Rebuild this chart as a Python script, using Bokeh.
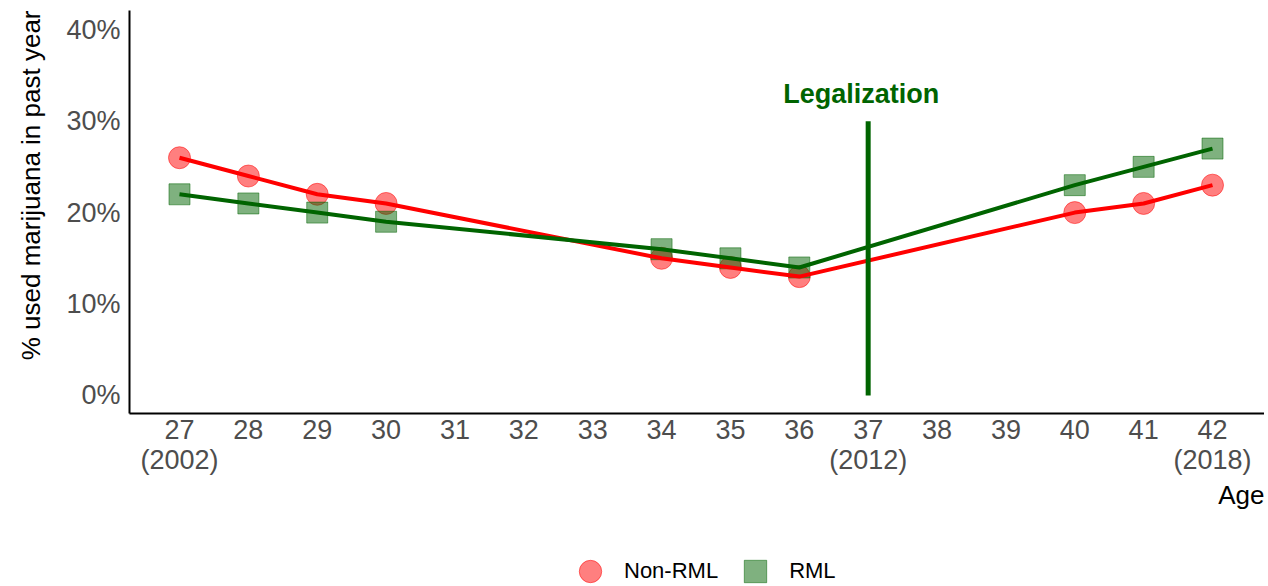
from bokeh.plotting import figure
from bokeh.layouts import column
from bokeh.models import Range1d, FixedTicker, Legend, LegendItem, Title, PrintfTickFormatter
from bokeh.core.properties import value
from bokeh.embed import file_html
from bokeh.resources import INLINE

ages = [27, 28, 29, 30, 34, 35, 36, 40, 41, 42]
non_rml = [26, 24, 22, 21, 15, 14, 13, 20, 21, 23]
rml = [22, 21, 20, 19, 16, 15, 14, 23, 25, 27]
x_ticks = list(range(27, 43))
x_tick_labels = {27: "27\n(2002)", 37: "37\n(2012)", 42: "42\n(2018)"}
y_ticks = [0, 10, 20, 30, 40]
legal_age = [37]
legal_low = [0]
legal_high = [30]
legal_text = ["Legalization"]
legal_text_y = [33]
series_names = ["Non-RML", "RML"]
y_title = "% used marijuana in past year"

RED = "#FF0000"
GREEN = "#006400"
FONT = "Liberation Sans"

p = figure(width=1264, height=540, x_range=Range1d(26.274, 42.755), y_range=Range1d(-1.97, 42.1),
           output_backend="svg", toolbar_location=None,
           min_border_left=129, min_border_right=0, min_border_top=10, min_border_bottom=127)
p.outline_line_color = None
p.xgrid.visible = False
p.ygrid.visible = False

# points
r_non = p.scatter(ages, non_rml, marker="circle", size=22, fill_color=RED, fill_alpha=0.5,
                  line_color=RED, line_alpha=0.5)
r_rml = p.scatter(ages, rml, marker="square", size=21, fill_color=GREEN, fill_alpha=0.5,
                  line_color=GREEN, line_alpha=0.5)
# lines
p.line(ages, non_rml, line_color=RED, line_width=4)
p.line(ages, rml, line_color=GREEN, line_width=4)

# legalization
p.segment(x0=legal_age, y0=legal_low, x1=legal_age, y1=legal_high, line_color=GREEN, line_width=5)
p.text(x=legal_age, y=legal_text_y, text=legal_text, text_color=GREEN, text_font=value(FONT),
       text_font_style="bold", text_font_size="27px", text_align="center", text_baseline="middle", x_offset=-7)

# axes
for ax in (p.xaxis[0], p.yaxis[0]):
    ax.axis_line_color = "black"
    ax.axis_line_width = 2
    ax.major_tick_line_color = None
    ax.minor_tick_line_color = None
    ax.major_label_text_color = "#4D4D4D"
    ax.major_label_text_font = FONT
    ax.major_label_text_font_size = "27px"

p.xaxis.ticker = FixedTicker(ticks=x_ticks)
p.xaxis.major_label_overrides = x_tick_labels
p.xaxis.major_label_standoff = -5
p.xaxis.major_label_text_line_height = 1.0

p.yaxis.ticker = FixedTicker(ticks=y_ticks)
p.yaxis.formatter = PrintfTickFormatter(format="%d%%")
p.yaxis.major_label_standoff = 3

ytitle = Title(text=y_title, align="right", vertical_align="top", offset=0,
               standoff=31, text_font=FONT, text_font_size="26px", text_font_style="normal",
               text_color="black")
p.add_layout(ytitle, "left")

age_title = Title(text="Age", align="right", text_font=FONT, text_font_size="26px",
                  text_font_style="normal", text_color="black", standoff=0)
p.add_layout(age_title, "below")

# legend strip (its renderers draw the same series, outside the strip's visible range)
pl = figure(width=1264, height=46, x_range=Range1d(0, 1), y_range=Range1d(0, 1),
            output_backend="svg", toolbar_location=None, x_axis_type=None, y_axis_type=None,
            min_border_left=0, min_border_right=0, min_border_top=0, min_border_bottom=0)
pl.outline_line_color = None
pl.xgrid.visible = False
pl.ygrid.visible = False
l_non = pl.scatter(ages, non_rml, marker="circle", size=22, fill_color=RED, fill_alpha=0.5,
                   line_color=RED, line_alpha=0.5)
l_rml = pl.scatter(ages, rml, marker="square", size=21, fill_color=GREEN, fill_alpha=0.5,
                   line_color=GREEN, line_alpha=0.5)
legend = Legend(items=[LegendItem(label=series_names[0], renderers=[l_non]),
                       LegendItem(label=series_names[1], renderers=[l_rml])],
                orientation="horizontal", location=(433, -13), glyph_width=56, glyph_height=56,
                label_standoff=6, spacing=9, padding=0, margin=0,
                label_text_font=FONT, label_text_font_size="22px", label_text_color="black",
                border_line_color=None, background_fill_alpha=0)
pl.add_layout(legend, "center")

layout = column(p, pl, spacing=0)
open("out.html", "w").write(file_html(layout, INLINE))
